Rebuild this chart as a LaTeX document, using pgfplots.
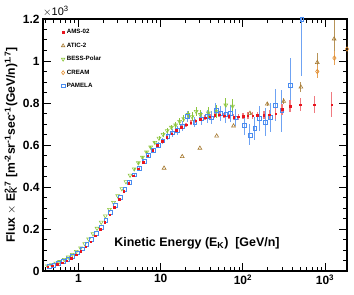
\documentclass[border=0pt]{standalone}
\usepackage{pgfplots}
\pgfplotsset{compat=1.18}
\usepackage{fontspec}
\setmainfont{Liberation Sans}
\definecolor{amsred}{HTML}{E8141E}
\definecolor{amsband}{HTML}{F07A80}
\definecolor{atic}{HTML}{A5782E}
\definecolor{bess}{HTML}{8DC63F}
\definecolor{cream}{HTML}{E08A2A}
\definecolor{pamela}{HTML}{4A8CF0}
\definecolor{pamelaerr}{HTML}{6FA3F3}
\begin{document}
\begin{tikzpicture}
\begin{axis}[name=ax, scale only axis, width=304bp, height=252bp,
  xmode=log, xmin=0.37, xmax=1850, ymin=0, ymax=1.2,
  axis line style={line width=1.3bp},
  tick align=inside, xtick pos=both, ytick pos=both,
  xticklabel pos=lower, yticklabel pos=left,
  major tick length=8bp, minor tick length=4bp,
  every tick/.style={line width=1bp, black},
  xtick={1,10,100,1000},
  xticklabels={1,10,10\textsuperscript{2},10\textsuperscript{3}},
  minor xtick={0.4,0.5,0.6,0.7,0.8,0.9,2,3,4,5,6,7,8,9,20,30,40,50,60,70,80,90,200,300,400,500,600,700,800,900},
  ytick={0,0.2,0.4,0.6,0.8,1,1.2},
  yticklabels={0,0.2,0.4,0.6,0.8,1,1.2},
  minor y tick num=3,
  tick label style={font=\fontsize{12}{12}\selectfont\bfseries},
  xlabel={Kinetic Energy (E\textsubscript{K})\ \ [GeV/n]},
  xlabel style={at={(rel axis cs:0.79,0.11)}, anchor=east, font=\fontsize{12.5}{13}\selectfont\bfseries},
  ylabel={Flux $\times$ E\rlap{\textsubscript{K}}\textsuperscript{2.7} [m\textsuperscript{-2}sr\textsuperscript{-1}sec\textsuperscript{-1}(GeV/n)\textsuperscript{1.7}]},
  ylabel style={at={(rel axis cs:-0.105,0.5)}, anchor=center, font=\fontsize{12.2}{13}\selectfont\bfseries},
  legend style={at={(rel axis cs:0.05,0.975)}, anchor=north west, draw=none, fill=none,
    font=\fontsize{6.2}{7}\selectfont\bfseries, row sep=3.6bp,
    /tikz/every even column/.append style={column sep=2bp}},
  legend cell align=left,
  error bars/error mark=none,
]
\addlegendimage{only marks, mark=square*, mark size=0.7bp, color=amsred}
\addlegendentry{AMS-02}
\addlegendimage{only marks, mark=triangle, mark size=2bp, color=atic, mark options={line width=0.6bp}}
\addlegendentry{ATIC-2}
\addlegendimage{only marks, mark=triangle, mark size=2bp, color=bess, mark options={rotate=180, line width=0.6bp}}
\addlegendentry{BESS-Polar}
\addlegendimage{only marks, mark=diamond, mark size=2bp, color=cream, mark options={line width=0.6bp}}
\addlegendentry{CREAM}
\addlegendimage{only marks, mark=square, mark size=1.7bp, color=pamela, mark options={line width=0.6bp}}
\addlegendentry{PAMELA}

% BESS-Polar
\addplot[forget plot, only marks, mark=triangle, mark size=2.2bp, color=bess, mark options={rotate=180, line width=0.6bp},
  error bars/.cd, y dir=both, y explicit, error bar style={line width=0.8bp, color=bess}]
  table[x=x, y=y, y error=e] {
x y e
0.42 0.024 0
0.47 0.030 0
0.53 0.037 0
0.59 0.045 0
0.67 0.055 0
0.75 0.066 0
0.84 0.079 0
0.94 0.093 0
1.06 0.110 0
1.19 0.130 0
1.33 0.152 0
1.50 0.177 0
1.68 0.203 0
1.89 0.232 0
2.12 0.262 0
2.38 0.293 0
2.67 0.326 0
3.00 0.358 0
3.37 0.392 0
3.78 0.425 0
4.24 0.456 0
4.76 0.486 0.005
5.35 0.515 0.005
6.00 0.541 0.006
6.74 0.566 0.006
7.56 0.590 0.007
8.49 0.612 0.008
9.53 0.632 0.009
10.7 0.650 0.010
12.0 0.668 0.011
13.5 0.684 0.012
15.2 0.695 0.013
17.0 0.712 0.015
19.1 0.725 0.016
21.5 0.745 0.018
24.1 0.735 0.02
27.0 0.760 0.022
30.4 0.745 0.024
38.0 0.752 0.027
48.0 0.760 0.03
62.0 0.790 0.035
75.0 0.785 0.035
};

% PAMELA
\addplot[forget plot, only marks, mark=square, mark size=1.9bp, color=pamela, mark options={line width=0.6bp},
  error bars/.cd, y dir=both, y explicit, error bar style={line width=1bp, color=pamelaerr}]
  table[x=x, y=y, y error=e] {
x y e
0.44 0.023 0
0.50 0.029 0
0.57 0.037 0
0.65 0.046 0
0.74 0.057 0
0.85 0.071 0
0.97 0.087 0
1.11 0.106 0
1.26 0.127 0
1.44 0.152 0
1.65 0.180 0
1.88 0.210 0
2.15 0.243 0
2.46 0.278 0
2.81 0.314 0
3.21 0.351 0
3.67 0.388 0
4.19 0.424 0.006
4.79 0.458 0.007
5.47 0.490 0.008
6.25 0.521 0.009
7.14 0.550 0.01
8.16 0.576 0.011
9.32 0.600 0.013
10.6 0.620 0.015
12.2 0.640 0.017
13.9 0.658 0.02
15.9 0.670 0.02
18.2 0.690 0.022
21.0 0.735 0.025
26.0 0.710 0.025
31.0 0.725 0.03
37.0 0.735 0.03
41.0 0.730 0.03
47.0 0.767 0.035
53.0 0.750 0.035
62.0 0.745 0.04
71.0 0.750 0.04
82.0 0.730 0.04
104 0.695 0.045
122 0.648 0.05
140 0.680 0.055
160 0.727 0.06
187 0.710 0.065
214 0.732 0.07
248 0.790 0.075
298 0.764 0.10
375 0.886 0.13
522 1.197 0.27
};

% ATIC-2
\addplot[forget plot, only marks, mark=triangle, mark size=2.2bp, color=atic, mark options={line width=0.6bp},
  error bars/.cd, y dir=both, y explicit, error bar style={line width=0.8bp, color=atic!80}]
  table[x=x, y=y, y error=e] {
x y e
11 0.490 0
18.3 0.545 0
30 0.585 0
48 0.643 0
77 0.691 0
122 0.751 0.008
198 0.795 0.01
314 0.808 0.015
508 0.876 0.022
805 0.993 0.045
1290 1.105 0.09
};

% CREAM
\addplot[forget plot, only marks, mark=diamond, mark size=2.2bp, color=cream, mark options={line width=0.6bp},
  error bars/.cd, y dir=both, y explicit, error bar style={line width=0.8bp, color=cream!80}]
  table[x=x, y=y, y error=e] {
x y e
805 0.950 0.03
1300 1.014 0.035
1850 1.057 0.05
};

% AMS-02
\addplot[forget plot, only marks, mark=square*, mark size=0.75bp, color=amsred,
  error bars/.cd, y dir=both, y explicit, error bar style={line width=1.6bp, color=amsband}]
  table[x=x, y=y, y error=e] {
x y e
0.42 0.020 0
0.48 0.026 0
0.55 0.033 0
0.63 0.040 0
0.72 0.050 0
0.82 0.062 0
0.94 0.077 0
1.07 0.094 0
1.22 0.115 0
1.40 0.140 0
1.60 0.168 0
1.83 0.198 0
2.09 0.232 0
2.39 0.268 0
2.73 0.305 0
3.12 0.343 0
3.57 0.381 0
4.08 0.418 0
4.66 0.453 0
5.33 0.487 0
6.09 0.519 0
6.96 0.548 0.005
7.95 0.575 0.006
9.09 0.598 0.006
10.4 0.619 0.007
11.9 0.638 0.007
13.6 0.655 0.008
15.5 0.670 0.008
17.7 0.684 0.009
20.3 0.696 0.009
23.2 0.707 0.01
26.5 0.716 0.01
30.3 0.724 0.01
34.6 0.730 0.011
39.5 0.735 0.011
45.2 0.742 0.012
51.6 0.744 0.012
59.0 0.740 0.012
67.4 0.736 0.013
77.0 0.733 0.013
88.0 0.735 0.014
100.6 0.738 0.015
115 0.739 0.016
131 0.740 0.017
150 0.741 0.018
180 0.743 0.02
210 0.745 0.022
250 0.750 0.024
300 0.770 0.026
375 0.785 0.03
500 0.793 0.03
740 0.792 0.04
1200 0.792 0.06
};
\end{axis}
\node[anchor=south west, inner sep=0pt, font=\fontsize{11}{11}\selectfont] at ([yshift=2bp]ax.north west) {$\times$10\textsuperscript{3}};
\pgfresetboundingbox
\path ([shift={(-43bp,-23bp)}]ax.south west) rectangle ([shift={(7bp,19bp)}]ax.north east);
\end{tikzpicture}
\end{document}
